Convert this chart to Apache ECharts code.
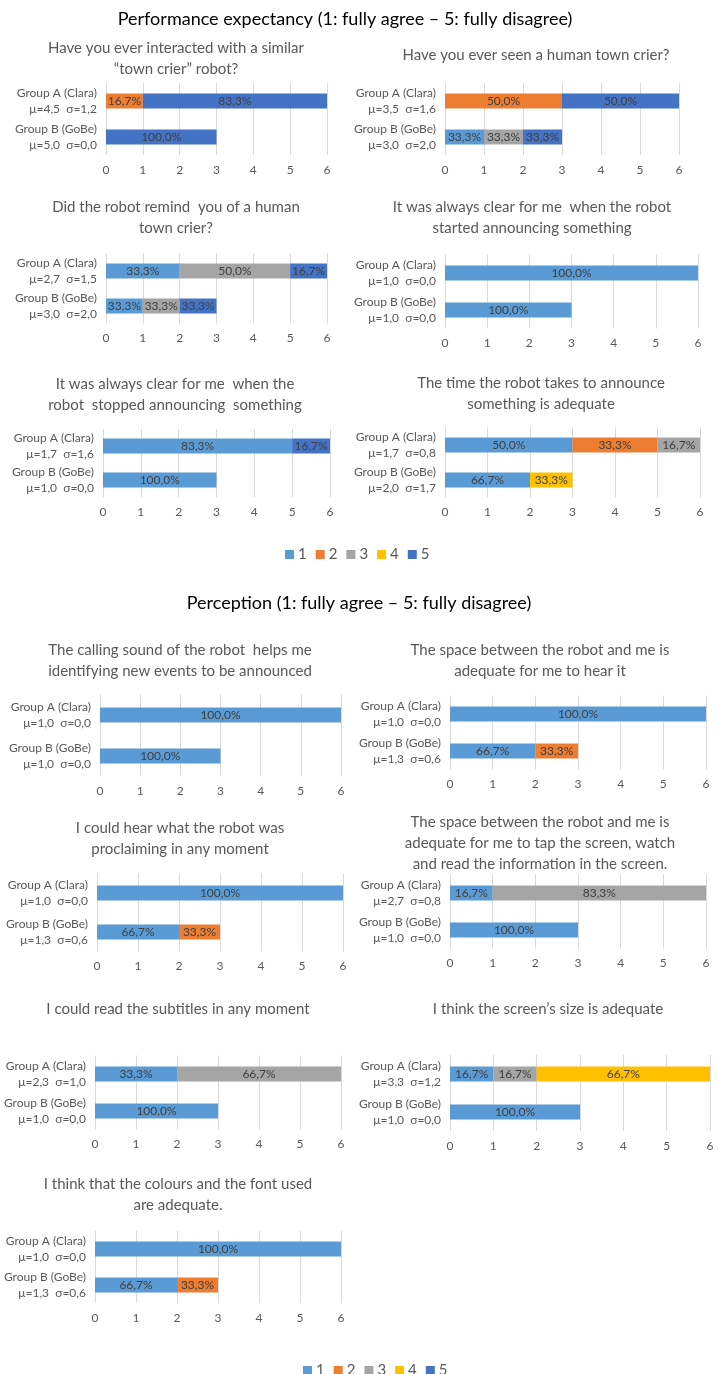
<!DOCTYPE html>
<html>
<head>
<meta charset="utf-8">
<script src="https://cdn.jsdelivr.net/npm/echarts@6/dist/echarts.min.js"></script>
<style>
html, body { margin: 0; padding: 0; background: #fff; }
#main { width: 718px; height: 1374px; }
</style>
</head>
<body>
<div id="main"></div>
<script>
// answer levels (1: fully agree - 5: fully disagree)
var levels = ['1', '2', '3', '4', '5'];
var levelColors = ['#5B9BD5', '#ED7D31', '#A5A5A5', '#FFC000', '#4472C4'];
var groupNames = ['Group A (Clara)', 'Group B (GoBe)'];

var sectionTitles = [
  'Performance expectancy (1: fully agree \u2013 5: fully disagree)',
  'Perception (1: fully agree \u2013 5: fully disagree)'
];

var questionTitles = [
  ['Have you ever interacted with a similar', '\u201ctown crier\u201d robot?'],
  ['Have you ever seen a human town crier?'],
  ['Did the robot remind  you of a human', 'town crier?'],
  ['It was always clear for me  when the robot', 'started announcing something'],
  ['It was always clear for me  when the', 'robot  stopped announcing  something'],
  ['The time the robot takes to announce', 'something is adequate'],
  ['The calling sound of the robot  helps me', 'identifying new events to be announced'],
  ['The space between the robot and me is', 'adequate for me to hear it'],
  ['I could hear what the robot was', 'proclaiming in any moment'],
  ['The space between the robot and me is', 'adequate for me to tap the screen, watch', 'and read the information in the screen.'],
  ['I could read the subtitles in any moment'],
  ['I think the screen\u2019s size is adequate'],
  ['I think that the colours and the font used', 'are adequate.']
];

// number of answers per level 1..5
var groupACounts = [
  [0, 1, 0, 0, 5],
  [0, 3, 0, 0, 3],
  [2, 0, 3, 0, 1],
  [6, 0, 0, 0, 0],
  [5, 0, 0, 0, 1],
  [3, 2, 1, 0, 0],
  [6, 0, 0, 0, 0],
  [6, 0, 0, 0, 0],
  [6, 0, 0, 0, 0],
  [1, 0, 5, 0, 0],
  [2, 0, 4, 0, 0],
  [1, 0, 1, 4, 0],
  [6, 0, 0, 0, 0]
];
var groupBCounts = [
  [0, 0, 0, 0, 3],
  [1, 0, 1, 0, 1],
  [1, 0, 1, 0, 1],
  [3, 0, 0, 0, 0],
  [3, 0, 0, 0, 0],
  [2, 0, 0, 1, 0],
  [3, 0, 0, 0, 0],
  [2, 1, 0, 0, 0],
  [2, 1, 0, 0, 0],
  [3, 0, 0, 0, 0],
  [3, 0, 0, 0, 0],
  [3, 0, 0, 0, 0],
  [2, 1, 0, 0, 0]
];
var groupAStats = ['\u03bc=4,5  \u03c3=1,2', '\u03bc=3,5  \u03c3=1,6', '\u03bc=2,7  \u03c3=1,5', '\u03bc=1,0  \u03c3=0,0',
  '\u03bc=1,7  \u03c3=1,6', '\u03bc=1,7  \u03c3=0,8', '\u03bc=1,0  \u03c3=0,0', '\u03bc=1,0  \u03c3=0,0',
  '\u03bc=1,0  \u03c3=0,0', '\u03bc=2,7  \u03c3=0,8', '\u03bc=2,3  \u03c3=1,0', '\u03bc=3,3  \u03c3=1,2', '\u03bc=1,0  \u03c3=0,0'];
var groupBStats = ['\u03bc=5,0  \u03c3=0,0', '\u03bc=3,0  \u03c3=2,0', '\u03bc=3,0  \u03c3=2,0', '\u03bc=1,0  \u03c3=0,0',
  '\u03bc=1,0  \u03c3=0,0', '\u03bc=2,0  \u03c3=1,7', '\u03bc=1,0  \u03c3=0,0', '\u03bc=1,3  \u03c3=0,6',
  '\u03bc=1,3  \u03c3=0,6', '\u03bc=1,0  \u03c3=0,0', '\u03bc=1,0  \u03c3=0,0', '\u03bc=1,0  \u03c3=0,0', '\u03bc=1,3  \u03c3=0,6'];

// layout of each small chart: plot x0..x6, bar centres A/B, title centre and first line y
var panels = [
  { x0: 106, x6: 327, a: 101, b: 137, tx: 176, ty: 48 },
  { x0: 445, x6: 679, a: 101, b: 137, tx: 536, ty: 55 },
  { x0: 106, x6: 327, a: 271, b: 306, tx: 176, ty: 207 },
  { x0: 445, x6: 698, a: 273, b: 310, tx: 532, ty: 207 },
  { x0: 103, x6: 330, a: 446, b: 480, tx: 175, ty: 384 },
  { x0: 445, x6: 700, a: 445, b: 480, tx: 541, ty: 383 },
  { x0: 100, x6: 341, a: 715, b: 756, tx: 180, ty: 650 },
  { x0: 450, x6: 706, a: 714, b: 751, tx: 540, ty: 650 },
  { x0: 97, x6: 343, a: 893, b: 932, tx: 180, ty: 828 },
  { x0: 450, x6: 706, a: 893, b: 930, tx: 540, ty: 822 },
  { x0: 95, x6: 341, a: 1074, b: 1111, tx: 178, ty: 1009 },
  { x0: 450, x6: 710, a: 1074, b: 1112, tx: 548, ty: 1009 },
  { x0: 95, x6: 341, a: 1249, b: 1285, tx: 178, ty: 1184 }
];

var FONT = 'Lato, "Open Sans", sans-serif';
var grids = [], xAxes = [], yAxes = [], series = [], graphics = [];

graphics.push({ type: 'text', x: 345, y: 19, style: { text: sectionTitles[0], font: '18px ' + FONT, fill: '#000', align: 'center', verticalAlign: 'middle' } });
graphics.push({ type: 'text', x: 359, y: 603, style: { text: sectionTitles[1], font: '18px ' + FONT, fill: '#000', align: 'center', verticalAlign: 'middle' } });

panels.forEach(function (p, i) {
  var d = p.b - p.a;
  grids.push({ left: p.x0, top: p.a - d / 2, width: p.x6 - p.x0, height: 2 * d, containLabel: false });
  xAxes.push({
    type: 'value', gridIndex: i, min: 0, max: 6, interval: 1,
    axisLine: { show: false }, axisTick: { show: false },
    splitLine: { show: true, lineStyle: { color: '#D9D9D9', width: 1 } },
    axisLabel: { color: '#595959', fontSize: 12, fontFamily: FONT, margin: 9 }
  });
  yAxes.push({
    type: 'category', gridIndex: i, inverse: true,
    data: [groupNames[0] + '\n' + groupAStats[i], groupNames[1] + '\n' + groupBStats[i]],
    axisLine: { show: false }, axisTick: { show: false },
    axisLabel: { color: '#595959', fontSize: 12, fontFamily: FONT, lineHeight: 16, margin: 9 }
  });
  var totals = [0, 0];
  levels.forEach(function (l, j) { totals[0] += groupACounts[i][j]; totals[1] += groupBCounts[i][j]; });
  levels.forEach(function (l, j) {
    var a = groupACounts[i][j], b = groupBCounts[i][j];
    series.push({
      type: 'bar', name: l, xAxisIndex: i, yAxisIndex: i, stack: 'q' + i,
      barWidth: 15,
      itemStyle: { color: levelColors[j] },
      label: {
        show: true, position: 'inside', color: '#404040', fontSize: 12, fontFamily: FONT,
        formatter: function (prm) {
          return (prm.value / totals[prm.dataIndex] * 100).toFixed(1).replace('.', ',') + '%';
        }
      },
      data: [a > 0 ? a : '-', b > 0 ? b : '-']
    });
  });
  questionTitles[i].forEach(function (line, k) {
    graphics.push({ type: 'text', x: p.tx, y: p.ty + k * 21, style: { text: line, font: '15px ' + FONT, fill: '#595959', align: 'center', verticalAlign: 'middle' } });
  });
});

var legendBase = {
  data: levels, icon: 'rect', itemWidth: 9, itemHeight: 9, itemGap: 9,
  textStyle: { color: '#595959', fontSize: 15, fontFamily: FONT, padding: [0, 0, 0, -1] }
};

var myChart = echarts.init(document.getElementById('main'));
var option = {
  animation: false,
  grid: grids,
  xAxis: xAxes,
  yAxis: yAxes,
  legend: [
    Object.assign({ left: 280, top: 542 }, legendBase),
    Object.assign({ left: 298, top: 1358 }, legendBase)
  ],
  graphic: graphics,
  series: series
};
myChart.setOption(option);
</script>
</body>
</html>
